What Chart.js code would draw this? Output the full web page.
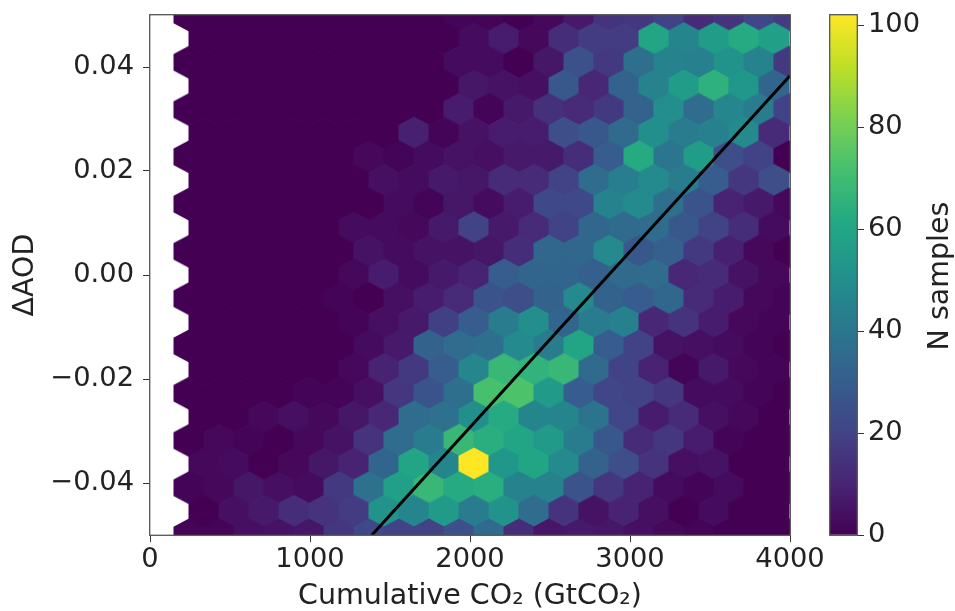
<!DOCTYPE html>
<html><head><meta charset="utf-8">
<style>html,body{margin:0;padding:0;background:#fff}#a{position:absolute;left:0;top:0}#b{position:absolute;left:820px;top:0}</style>
<script src="https://cdn.jsdelivr.net/npm/chart.js@4"></script></head>
<body><canvas id="a" width="955" height="611"></canvas><canvas id="b" width="135" height="611"></canvas>
<script>
// Hexagon centres in data units
const rowY=[0.05,0.04545,0.04091,0.03636,0.03182,0.02727,0.02273,0.01818,0.01364,0.00909,0.00455,0,-0.00455,-0.00909,-0.01364,-0.01818,-0.02273,-0.02727,-0.03182,-0.03636,-0.04091,-0.04545,-0.05];
const colXLong=[243.75,431.25,618.75,806.25,993.75,1181.25,1368.75,1556.25,1743.75,1931.25,2118.75,2306.25,2493.75,2681.25,2868.75,3056.25,3243.75,3431.25,3618.75,3806.25,3993.75];
const colXShort=[337.5,525,712.5,900,1087.5,1275,1462.5,1650,1837.5,2025,2212.5,2400,2587.5,2775,2962.5,3150,3337.5,3525,3712.5,3900];
// Sample counts per hexagon row (top to bottom)
const r00=[0,0,0,0,0,0,0,0,0,1,1,0,2,7,15,16,20,12,15,21,18];
const r01=[0,0,0,0,0,0,0,0,0,3,8,2,13,18,18,60,46,56,62,57];
const r02=[0,0,0,0,0,0,0,0,0,3,3,0,6,25,17,37,45,44,52,45,17];
const r03=[0,0,0,0,0,0,0,0,0,6,5,4,28,11,32,45,56,65,53,33];
const r04=[0,0,0,0,0,0,0,0,0,8,1,7,14,12,17,32,50,36,47,42,20];
const r05=[0,0,0,0,0,0,0,9,1,5,8,8,24,28,35,50,42,44,48,12];
const r06=[0,0,0,0,0,0,2,1,3,5,4,7,7,13,30,62,40,56,24,20,0];
const r07=[0,0,0,0,0,0,4,3,7,6,12,12,20,36,43,48,42,30,16,24];
const r08=[0,0,0,0,0,0,0,3,1,6,3,8,22,22,45,48,37,26,10,7,2];
const r09=[0,0,0,0,0,3,3,2,7,20,7,12,20,34,35,36,28,20,13,3];
const r10=[0,0,0,0,0,0,5,3,5,5,6,13,34,34,48,28,31,17,9,2,0];
const r11=[0,0,0,0,0,2,8,3,7,10,30,33,33,31,35,36,11,12,5,2];
const r12=[0,0,0,0,0,1,0,4,8,12,26,24,32,48,32,30,34,12,8,2,1];
const r13=[0,0,0,0,0,1,4,7,19,30,42,50,33,42,44,11,15,8,2,1];
const r14=[0,0,0,0,0,0,3,7,32,36,37,48,42,60,30,20,5,4,3,1,0];
const r15=[0,0,0,0,0,2,10,17,30,47,68,66,68,35,20,10,1,7,2,1];
const r16=[0,0,0,0,1,1,4,16,26,37,72,73,55,30,21,20,16,3,3,1,0];
const r17=[0,0,2,4,2,6,11,36,38,50,62,46,46,39,21,8,12,4,2,0];
const r18=[0,2,1,0,2,5,15,36,42,68,64,60,55,42,28,12,16,8,1,0,0];
const r19=[2,3,0,2,6,10,33,60,46,102,53,60,48,32,24,15,4,5,0,0];
const r20=[1,2,6,4,3,17,38,57,68,62,64,45,45,26,16,10,3,1,3,0,0];
const r21=[0,4,7,13,15,18,52,46,55,42,52,36,15,5,10,4,0,3,0,0];
const r22=[1,1,4,5,6,16,22,20,20,25,35,13,6,7,6,4,2,1,0,0,0];
const rows=[r00,r01,r02,r03,r04,r05,r06,r07,r08,r09,r10,r11,r12,r13,r14,r15,r16,r17,r18,r19,r20,r21,r22];
// Fit line
const fitX=[1387,4000];
const fitY=[-0.05,0.0383];
// Ticks and labels
const xTicks=[0,1000,2000,3000,4000];
const yTicks=[-0.04,-0.02,0,0.02,0.04];
const cTicks=[0,20,40,60,80,100];
const xTitle='Cumulative CO\u2082 (GtCO\u2082)';
const yTitle='\u0394AOD';
const cTitle='N samples';
const cMax=102;
const viridis=[[68,1,84],[72,36,117],[65,68,135],[53,95,141],[42,120,142],[33,145,140],[34,168,132],[68,191,112],[122,209,81],[189,223,38],[253,231,37]];

function cmap(c){const t=Math.min(1,c/cMax)*10,i=Math.min(9,Math.floor(t)),f=t-i,a=viridis[i],b=viridis[i+1];
  return 'rgb('+a.map((v,j)=>Math.round(v+(b[j]-v)*f)).join(',')+')';}
const sprites={};
function hexSprite(c){
  if(sprites[c])return sprites[c];
  const w=36,h=38,cv=document.createElement('canvas');cv.width=w;cv.height=h;
  const g=cv.getContext('2d'),hw=15.5,s=16.5;
  g.translate(w/2,h/2);g.beginPath();
  g.moveTo(0,-s);g.lineTo(hw,-s/2);g.lineTo(hw,s/2);g.lineTo(0,s);g.lineTo(-hw,s/2);g.lineTo(-hw,-s/2);g.closePath();
  g.fillStyle=cmap(c);g.fill();
  return sprites[c]=cv;
}
const hexData=[];
rows.forEach((r,i)=>{const xs=r.length===21?colXLong:colXShort;r.forEach((c,k)=>hexData.push({x:xs[k],y:rowY[i],c}));});
const INK='#222';
const font={family:'"DejaVu Sans"',size:27.3};
const titleFont={family:'"DejaVu Sans"',size:28.5,lineHeight:1};
const frame={id:'frame',afterDraw(ch){const a=ch.chartArea,g=ch.ctx;g.save();g.strokeStyle='#555';g.lineWidth=1.3;g.strokeRect(a.left-.3,a.top-.3,a.right-a.left+.6,a.bottom-a.top+.6);g.restore();}};
const cLabel={id:'cLabel',afterDraw(ch){const g=ch.ctx;g.save();g.translate(128,276);g.rotate(-Math.PI/2);g.font='28.5px "DejaVu Sans"';g.fillStyle=INK;g.textAlign='center';g.textBaseline='alphabetic';g.fillText(cTitle,0,0);g.restore();}};
function tickGrid(){return {drawOnChartArea:false,drawTicks:true,tickLength:7,color:'#333',lineWidth:1};}
const noPad=s=>{s.paddingTop=0;s.paddingBottom=0;s.paddingLeft=0;s.paddingRight=0;};
new Chart(document.getElementById('a'),{
  type:'scatter',
  data:{datasets:[
    {label:'fit',data:fitX.map((x,i)=>({x,y:fitY[i]})),showLine:true,borderColor:'#000',borderWidth:3,pointRadius:0,clip:0,order:0},
    {label:'hex',data:hexData,pointStyle:c=>hexSprite(c.raw?c.raw.c:0),pointRadius:1,clip:0,order:1}
  ]},
  options:{responsive:false,animation:false,events:[],
    layout:{padding:{left:0,top:15,right:165,bottom:0}},
    plugins:{legend:{display:false},tooltip:{enabled:false}},
    scales:{
      x:{type:'linear',min:0,max:4000,afterBuildTicks:s=>{s.ticks=xTicks.map(v=>({value:v}))},
        afterFit:s=>{s.height=76;noPad(s);},
        grid:tickGrid(),border:{display:false},
        ticks:{font,color:INK,maxRotation:0,padding:2,callback:v=>String(v)},
        title:{display:true,text:xTitle,font:titleFont,color:INK,padding:{top:-3,bottom:0}}},
      y:{type:'linear',min:-0.05,max:0.05,afterBuildTicks:s=>{s.ticks=yTicks.map(v=>({value:v}))},
        afterFit:s=>{s.width=150;noPad(s);},
        grid:tickGrid(),border:{display:false},
        ticks:{font,color:INK,padding:9,callback:v=>(v<0?'\u2212':'')+Math.abs(v).toFixed(2)},
        title:{display:true,text:yTitle,font:titleFont,color:INK,padding:{top:11,bottom:0}}}
    }},
  plugins:[frame]
});
new Chart(document.getElementById('b'),{
  type:'bar',
  data:{labels:[''],datasets:[{data:[cMax],barPercentage:1,categoryPercentage:1,backgroundColor:c=>{
    const a=c.chart.chartArea;if(!a)return cmap(50);
    const g=c.chart.ctx.createLinearGradient(0,a.bottom,0,a.top);
    viridis.forEach((v,i)=>g.addColorStop(i/10,'rgb('+v.join(',')+')'));return g;}}]},
  options:{responsive:false,animation:false,events:[],
    layout:{padding:{left:10,top:15,right:0,bottom:76}},
    plugins:{legend:{display:false},tooltip:{enabled:false}},
    scales:{
      x:{display:false},
      y:{position:'right',min:0,max:cMax,afterBuildTicks:s=>{s.ticks=cTicks.map(v=>({value:v}))},
        afterFit:s=>{s.width=98;noPad(s);},
        grid:tickGrid(),border:{display:false},
        ticks:{font,color:INK,padding:4,callback:v=>String(v)}}
    }},
  plugins:[frame,cLabel]
});
</script></body></html>
